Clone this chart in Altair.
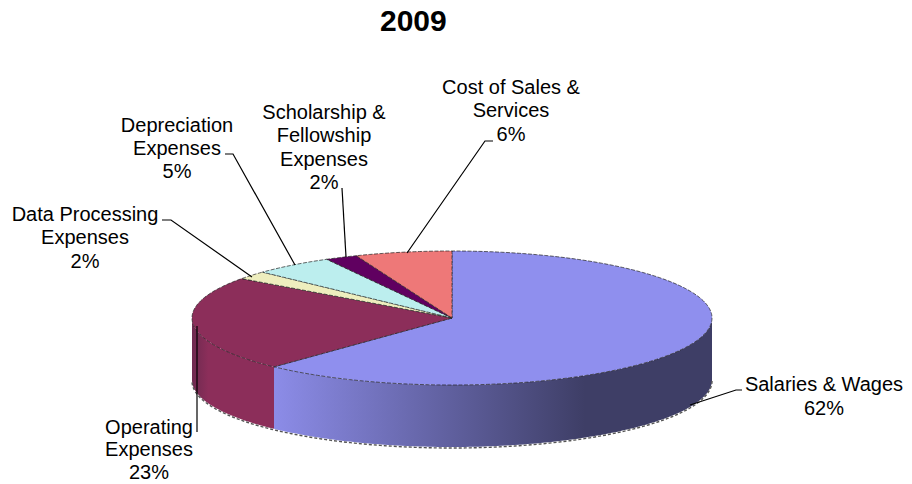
import math
import altair as alt
import pandas as pd

# --- chart values ---
categories = ["Salaries & Wages", "Operating Expenses", "Data Processing Expenses",
              "Depreciation Expenses", "Scholarship & Fellowship Expenses", "Cost of Sales & Services"]
shares = [62, 23, 2, 5, 2, 6]
colors = ["#8F8FEE", "#8C2E5A", "#EEEEBE", "#BCEEEE", "#600060", "#EE7878"]
title_text = "2009"

# --- layout (page pixels) ---
CX, CY, RX, RY, DEPTH = 452, 318, 260, 67, 62
FONT = "Liberation Sans"
label_lines = [
    (824, [391, 415], ["Salaries & Wages", "62%"]),
    (149, [434, 456, 479], ["Operating", "Expenses", "23%"]),
    (85, [221, 244, 268], ["Data Processing", "Expenses", "2%"]),
    (177, [132, 155, 178], ["Depreciation", "Expenses", "5%"]),
    (324, [119, 142, 166, 189], ["Scholarship &", "Fellowship", "Expenses", "2%"]),
    (511, [94, 117, 141], ["Cost of Sales &", "Services", "6%"]),
]
leaders = [
    [(742, 390), (736, 390), (690, 405)],
    [(197, 432), (197, 326)],
    [(162, 220), (171, 220), (252, 277)],
    [(225, 154), (233, 154), (295, 265)],
    [(342, 188), (346, 257)],
    [(493, 141), (485, 141), (407, 253)],
]

xs = alt.Scale(domain=[8, 904], range=[0, 896])
ys = alt.Scale(domain=[48, 476], range=[0, 428])
X = alt.X("x:Q", scale=xs, axis=None)
Y = alt.Y("y:Q", scale=ys, axis=None)


def rim(a, b):
    n = max(2, int(abs(b - a)) + 1)
    return [a + (b - a) * i / (n - 1) for i in range(n)]


def px(t):
    return CX + RX * math.sin(math.radians(t))


def py(t):
    return CY - RY * math.cos(math.radians(t))


edges = [0]
for s in shares:
    edges.append(edges[-1] + s * 3.6)

layers = []

# side wall
wall_fill = {
    0: alt.Gradient(gradient="linear", x1=0, x2=1, y1=0, y2=0, stops=[
        alt.GradientStop(color="#8C8CE8", offset=0),
        alt.GradientStop(color="#3E3E66", offset=0.71),
        alt.GradientStop(color="#3E3E66", offset=1)]),
    1: alt.Gradient(gradient="linear", x1=0, x2=1, y1=0, y2=0, stops=[
        alt.GradientStop(color="#6E2A50", offset=0),
        alt.GradientStop(color="#8C2E5A", offset=0.2),
        alt.GradientStop(color="#8C2E5A", offset=1)]),
}
for i, fill in wall_fill.items():
    a, b = max(edges[i], 90), min(edges[i + 1], 270)
    df = pd.DataFrame([{"x": px(t), "y": py(t), "y2": py(t) + DEPTH} for t in rim(a, b)])
    layers.append(alt.Chart(df).mark_area(fill=fill, stroke=None).encode(
        x=X, y=Y, y2="y2:Q"))

# lower shadow edge
df = pd.DataFrame([{"x": px(t), "y": py(t) + DEPTH + 1, "i": t} for t in rim(90, 270)])
layers.append(alt.Chart(df).mark_line(stroke="#555555", strokeWidth=1.4, strokeDash=[3, 2]).encode(
    x=X, y=Y, order="i:Q"))

# top face
for i, c in enumerate(colors):
    pts = [(CX, CY)] + [(px(t), py(t)) for t in rim(edges[i], edges[i + 1])] + [(CX, CY)]
    df = pd.DataFrame([{"x": p[0], "y": p[1], "i": k} for k, p in enumerate(pts)])
    layers.append(alt.Chart(df).mark_line(fill=c, stroke="#222222", strokeWidth=0.7,
                                          strokeDash=[4, 1.5]).encode(
        x=X, y=Y, order="i:Q"))

# leaders
for line in leaders:
    df = pd.DataFrame([{"x": p[0], "y": p[1], "i": k} for k, p in enumerate(line)])
    layers.append(alt.Chart(df).mark_line(stroke="black", strokeWidth=1.2).encode(
        x=X, y=Y, order="i:Q"))

# labels
rows = []
for cx, bases, texts in label_lines:
    for b, t in zip(bases, texts):
        rows.append({"x": cx, "y": b, "t": t})
layers.append(alt.Chart(pd.DataFrame(rows)).mark_text(
    font=FONT, fontSize=20, color="black", align="center", baseline="alphabetic").encode(
    x=X, y=Y, text="t:N"))

chart = alt.layer(*layers).properties(
    width=896, height=428,
    padding={"left": 0, "top": 40, "right": 0, "bottom": 8},
    autosize=alt.AutoSizeParams(type="none"),
    title=alt.TitleParams(title_text, font=FONT, fontSize=30, fontWeight="bold", color="black",
                          anchor="start", dx=372, dy=21, offset=8, baseline="alphabetic"),
).configure_view(stroke=None)

chart.save("out.html", embed_options={"renderer": "svg", "actions": False})
